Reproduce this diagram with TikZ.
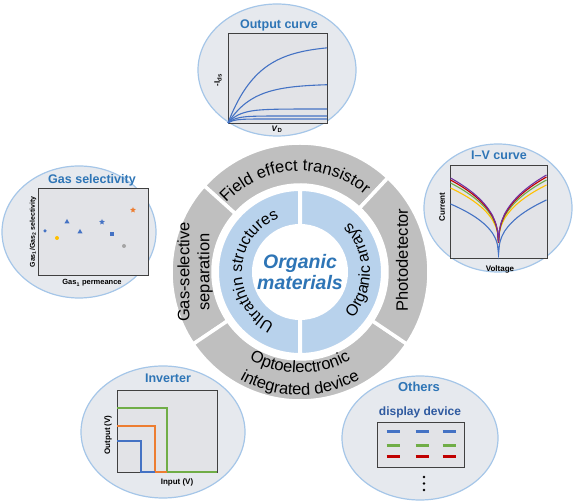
\documentclass[tikz,border=0pt]{standalone}
\usepackage{fontspec}
\setmainfont{Liberation Sans}
\usetikzlibrary{decorations.text,shapes.geometric}
\definecolor{ringgray}{RGB}{191,191,191}
\definecolor{diskblue}{RGB}{184,210,236}
\definecolor{titleblue}{RGB}{46,117,182}
\definecolor{darkblue}{RGB}{47,90,160}
\definecolor{bubblein}{RGB}{230,233,238}
\definecolor{bubblemid}{RGB}{214,224,236}
\definecolor{bubbleout}{RGB}{178,206,236}
\definecolor{bubbleedge}{RGB}{165,198,232}
\definecolor{plotbg}{RGB}{226,227,231}
\definecolor{curveblue}{RGB}{68,114,196}
\definecolor{curvegreen}{RGB}{112,173,71}
\definecolor{curveorange}{RGB}{237,125,49}
\definecolor{curveyellow}{RGB}{255,192,0}
\definecolor{curvered}{RGB}{192,0,0}
\definecolor{curvepurple}{RGB}{112,48,160}
\definecolor{dotgray}{RGB}{165,165,165}
\pgfdeclareradialshading{bubbleshade}{\pgfpointorigin}{color(0bp)=(bubblein); color(34bp)=(bubblein); color(44bp)=(bubblemid); color(50bp)=(bubbleout)}
\newcommand{\ringfont}{\fontsize{16.5}{16.5}\selectfont}
\newcommand{\diskfont}{\fontsize{16}{16}\selectfont}

\begin{document}
\begin{tikzpicture}[x=1pt,y=1pt]
    \tikzstyle{bubble} = [draw=bubbleedge, line width=1.2pt, shading=bubbleshade]
    \tikzstyle{plotbox} = [draw=black!75, line width=0.9pt, fill=plotbg]
    \tikzstyle{title} = [font=\fontsize{12.5}{12.5}\selectfont\bfseries, text=titleblue]
    \tikzstyle{axis} = [font=\fontsize{8}{8}\selectfont\bfseries]
    \tikzstyle{curve} = [line width=1.1pt]
    \tikzstyle{segment} = [fill=ringgray, draw=white, line width=3.5pt]
    \tikzstyle{half} = [fill=diskblue, draw=white, line width=4pt]
    \tikzstyle{ringlabel} = [font=\fontsize{16.5}{20}\selectfont, align=center, inner sep=0pt]
    \tikzstyle{gaspt} = [inner sep=0pt, minimum size=4pt]
    \tikzstyle{pixbar} = [line width=3pt]

    \useasboundingbox (0,0) rectangle (577,502);
    \coordinate (C) at (300,230);

    % Bubbles
    \shadedraw[bubble] (277,432) ellipse [x radius=79, y radius=66];
    \shadedraw[bubble] (498,294) ellipse [x radius=74, y radius=64];
    \shadedraw[bubble] (79,270) ellipse [x radius=77, y radius=66];
    \shadedraw[bubble] (163,70) ellipse [x radius=82, y radius=66];
    \shadedraw[bubble] (420,64) ellipse [x radius=78, y radius=62];

    % Output curve
    \node[title] (outtitle) at (279,477) {Output curve};
    \draw[plotbox] (228,379) rectangle (327,469);
    \foreach \hgt/\rate in {78/30, 39/25, 14/12, 7/8, 4/6}
        \draw[curve, curveblue] plot[domain=0:99, samples=40, smooth] ({228+\x}, {379+\hgt*(1-exp(-\x/\rate))});
    \node[axis, rotate=90] (ids) at (218,422) {-I\textsubscript{ds}};
    \node[axis] (vd) at (277,373) {\textit{V}\textsubscript{D}};

    % I-V curve
    \node[title] (ivtitle) at (499,347) {I–V curve};
    \draw[plotbox] (450,244) rectangle (547,337);
    \foreach \col/\yl/\yr/\yc in {curveblue/298/302/246, curveyellow/314/317/257, curvegreen/319/322/257, curvered/322/325/257, curvepurple/324/327/257}
        \draw[curve, color=\col] plot[domain=-48:48, samples=97] ({498.5+\x}, {\yc+((\x<0)?(\yl-\yc):(\yr-\yc))*((abs(\x)+0.01)/48)^0.4});
    \node[axis, rotate=90] (current) at (442,295) {Current};
    \node[axis] (voltage) at (500,233) {Voltage};

    % Gas selectivity
    \node[title] (gastitle) at (92,322) {Gas selectivity};
    \draw[plotbox] (38,227) rectangle (148,314);
    \node[gaspt, circle, fill=curveblue, minimum size=3.5pt] (g1) at (45,271) {};
    \node[gaspt, circle, fill=curveyellow] (g2) at (57,264) {};
    \node[gaspt, regular polygon, regular polygon sides=3, fill=curveblue, minimum size=6pt] (g3) at (67,280) {};
    \node[gaspt, regular polygon, regular polygon sides=3, fill=curveblue, minimum size=6pt] (g4) at (80,270) {};
    \node[gaspt, star, star points=5, star point ratio=2.2, fill=curveblue, minimum size=6pt] (g5) at (102,280) {};
    \node[gaspt, rectangle, fill=curveblue, minimum size=3.5pt] (g6) at (112,268) {};
    \node[gaspt, circle, fill=dotgray] (g7) at (124,256) {};
    \node[gaspt, star, star points=5, star point ratio=2.2, fill=curveorange, minimum size=6pt] (g8) at (133,292) {};
    \node[axis, font=\fontsize{7}{7}\selectfont\bfseries, rotate=90] (gasy) at (33,270) {Gas\textsubscript{1}/Gas\textsubscript{2} selectivity};
    \node[axis, font=\fontsize{7.5}{7.5}\selectfont\bfseries] (gasx) at (92,219) {Gas\textsubscript{1} permeance};

    % Inverter
    \node[title] (invtitle) at (168,124) {Inverter};
    \draw[plotbox] (117,30) rectangle (217,112);
    \draw[curve, curvegreen] (117,94) -- (167,94) -- (167,30) -- (217,30);
    \draw[curve, curveorange] (117,76) -- (155,76) -- (155,30) -- (167,30);
    \draw[curve, curveblue] (117,61) -- (141,61) -- (141,30) -- (155,30);
    \node[axis, rotate=90] (outv) at (108,67) {Output (V)};
    \node[axis] (inv) at (177,20) {Input (V)};

    % Others
    \node[title, font=\fontsize{13}{13}\selectfont\bfseries] (othtitle) at (419,115) {Others};
    \node[title, text=darkblue, font=\fontsize{12}{12}\selectfont\bfseries] (display) at (420,90) {display device};
    \draw[plotbox] (377,35) rectangle (464,80);
    \foreach \x in {393,422,449}
        \foreach \y/\col in {70/curveblue, 56/curvegreen, 45/curvered}
            \draw[pixbar, color=\col] ({\x-6.5},\y) -- ({\x+6.5},\y);
    \foreach \y in {25,18.5,12}
        \fill (424,\y) circle[radius=1.4];

    % Ring and disk
    \begin{scope}[shift={(C)}]
        \draw[segment] (47:129) arc[start angle=47, end angle=138, radius=129] -- (138:87) arc[start angle=138, end angle=47, radius=87] -- cycle;
        \draw[segment] (138:129) arc[start angle=138, end angle=214, radius=129] -- (214:87) arc[start angle=214, end angle=138, radius=87] -- cycle;
        \draw[segment] (214:129) arc[start angle=214, end angle=326, radius=129] -- (326:87) arc[start angle=326, end angle=214, radius=87] -- cycle;
        \draw[segment] (-34:129) arc[start angle=-34, end angle=47, radius=129] -- (47:87) arc[start angle=47, end angle=-34, radius=87] -- cycle;
        \draw[half] (90:83) arc[start angle=90, end angle=270, radius=83] -- cycle;
        \draw[half] (-90:83) arc[start angle=-90, end angle=90, radius=83] -- cycle;
        \fill[white] (0,0) circle[radius=48];

        % curved labels
        \path[decorate, decoration={text along path, text align=center, text={|\ringfont|Field effect transistor}}] (145:101) arc[start angle=145, end angle=42, radius=101];
        \path[decorate, decoration={text along path, text align=center, text={|\ringfont|Optoelectronic}}] (215:101) arc[start angle=215, end angle=325, radius=101];
        \path[decorate, decoration={text along path, text align=center, text={|\ringfont|integrated device}}] (215:123) arc[start angle=215, end angle=325, radius=123];
        \path[decorate, decoration={text along path, text align=center, text={|\diskfont|Ultrathin structures}}] (250:58) arc[start angle=250, end angle=105, radius=58];
        \path[decorate, decoration={text along path, text align=center, text={|\diskfont|Organic arrays}}] (-50:70) arc[start angle=-50, end angle=54, radius=70];
    \end{scope}

    \node[ringlabel, rotate=90] (gassep) at (195,230) {Gas-selective\\separation};
    \node[ringlabel, rotate=90] (photo) at (402,242) {Photodetector};
    \node[font=\fontsize{19.5}{21}\selectfont\bfseries\itshape, text=titleblue, align=center] (core) at (C) {Organic\\materials};
\end{tikzpicture}
\end{document}
